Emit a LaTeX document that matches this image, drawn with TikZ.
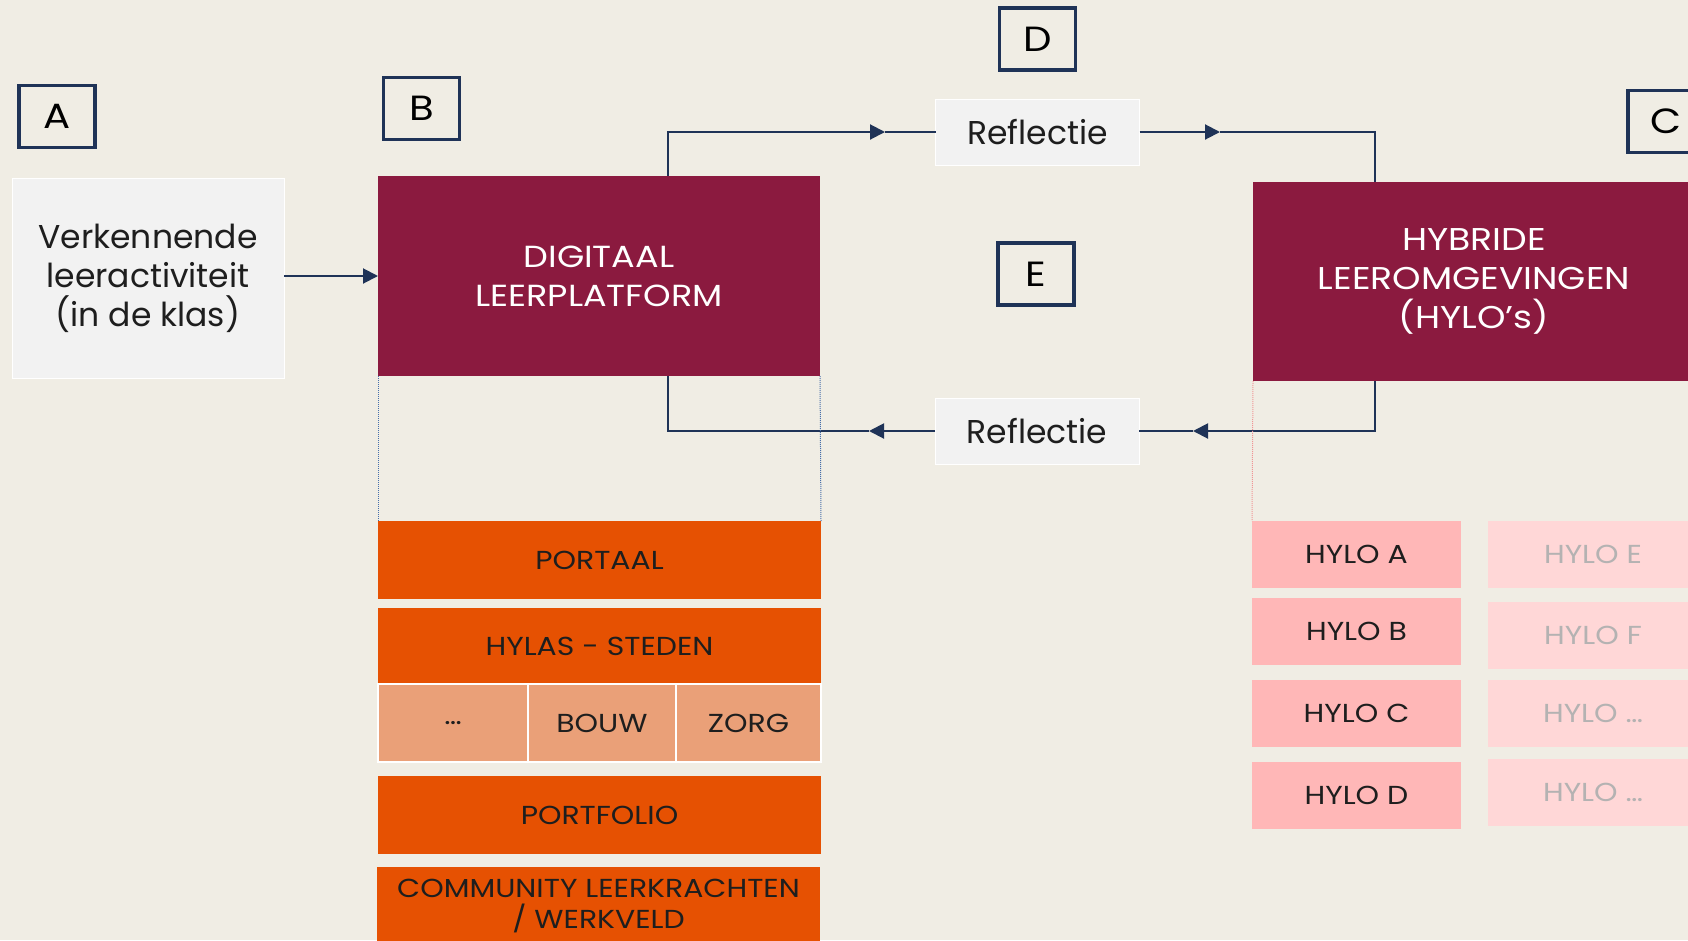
\documentclass[tikz,border=0pt]{standalone}
\usepackage{fontspec}
\setmainfont{Poppins}
\newfontfamily\capsf[FakeStretch=1.15]{Poppins}
\usetikzlibrary{arrows.meta,positioning}

\definecolor{bg}{RGB}{240,237,228}
\definecolor{navy}{RGB}{31,51,87}
\definecolor{maroon}{RGB}{139,26,63}
\definecolor{orng}{RGB}{230,81,2}
\definecolor{lorng}{RGB}{234,160,120}
\definecolor{pnk}{RGB}{255,183,183}
\definecolor{lpnk}{RGB}{255,215,215}
\definecolor{lgr}{RGB}{242,242,242}
\definecolor{txt}{RGB}{30,30,30}
\definecolor{grtxt}{RGB}{180,178,178}
\definecolor{dotb}{RGB}{70,110,170}
\definecolor{dotp}{RGB}{240,150,150}

\begin{document}
\begin{tikzpicture}[x=1pt,y=-1pt,
  ln/.style={draw=navy,line width=2pt},
  tip/.style={-{Triangle[length=15pt,width=15pt]}},
  lt/.style={draw=navy,line width=3.5pt,minimum width=76pt,minimum height=62pt,
    inner sep=0pt,outer sep=0pt,text=black,font=\capsf\fontsize{35}{40}\selectfont},
  gb/.style={fill=lgr,draw=white,line width=1pt,inner sep=0pt,outer sep=0pt,
    align=center,text=txt,font=\fontsize{33}{39}\selectfont},
  mb/.style={fill=maroon,inner sep=0pt,outer sep=0pt,minimum width=442pt,
    minimum height=200pt,align=center,text=white,font=\capsf\fontsize{30.5}{39}\selectfont},
  ob/.style={fill=orng,inner sep=0pt,outer sep=0pt,minimum width=443pt,
    minimum height=78pt,align=center,text=txt,font=\capsf\fontsize{26}{31}\selectfont},
  sb/.style={fill=lorng,draw=white,line width=1.5pt,inner sep=0pt,outer sep=0pt,
    minimum height=78pt,text=txt,font=\capsf\fontsize{26}{31}\selectfont},
  hl/.style={fill=pnk,inner sep=0pt,outer sep=0pt,minimum width=209pt,
    minimum height=67pt,text=txt,font=\capsf\fontsize{26}{30}\selectfont},
  hr/.style={fill=lpnk,inner sep=0pt,outer sep=0pt,minimum width=210pt,
    minimum height=67pt,text=grtxt,font=\capsf\fontsize{26}{30}\selectfont}]
  \fill[bg] (0,0) rectangle (1688,940);
  \useasboundingbox (0,0) rectangle (1688,940);

  \foreach \l/\x/\y in {A/57/116.5,B/421.5/108.5,D/1037.5/39,E/1036/274,C/1666/121.5}
    \node[lt] (l\l) at (\x,\y) {\l};

  \node[gb,minimum width=272pt,minimum height=200pt] (ver) at (148,278)
    {Verkennende\\leeractiviteit\\(in de klas)};
  \node[mb] (dig) at (599,276) {DIGITAAL\\LEERPLATFORM};
  \node[mb,minimum height=199pt,font=\capsf\fontsize{31.5}{39}\selectfont] (hyb) at (1474,281.5)
    {HYBRIDE\\LEEROMGEVINGEN\\(HYLO’s)};
  \node[gb,minimum width=204pt,minimum height=66pt] (r1) at (1037.5,132) {Reflectie};
  \node[gb,minimum width=204pt,minimum height=66pt] (r2) at (1037,431) {Reflectie};

  \node[ob] (por) at (599.5,560) {PORTAAL};
  \node[ob,minimum height=76pt] (hys) at (599.5,646) {HYLAS - STEDEN};
  \node[sb,minimum width=150pt] (s1) at (453,723) {\ldots};
  \node[sb,minimum width=148pt] (s2) at (602,723) {BOUW};
  \node[sb,minimum width=145pt] (s3) at (748.5,723) {ZORG};
  \node[ob] (pf) at (599.5,815) {PORTFOLIO};
  \node[ob] (com) at (598.5,906) {COMMUNITY LEERKRACHTEN\\/ WERKVELD};

  \foreach \n/\y in {A/554.5,B/631.5,C/713.5,D/795.5}
    \node[hl] (h\n) at (1356.5,\y) {HYLO \n};
  \foreach \n/\t/\y in {E/E/554.5,F/F/635.5,G/{\ldots}/713.5,H/{\ldots}/792.5}
    \node[hr] (h\n) at (1593,\y) {HYLO \t};

  \coordinate (k1) at (668,132);
  \coordinate (k2) at (1375,132);
  \coordinate (k3) at (668,431);
  \coordinate (k4) at (1375,431);
  \coordinate (a1) at (885,132);
  \coordinate (a2) at (1220,132);
  \coordinate (a3) at (1193,431);
  \coordinate (a4) at (869,431);

  \draw[ln,tip] (ver.east |- dig) -- (dig);
  \draw[ln,tip] (dig.north -| k1) -- (k1) -- (a1);
  \draw[ln] (a1) -- (r1.west);
  \draw[ln,tip] (r1.east) -- (a2);
  \draw[ln] (a2) -- (k2) -- (hyb.north -| k2);
  \draw[ln,tip] (hyb.south -| k4) -- (k4) -- (a3);
  \draw[ln] (a3) -- (r2.east);
  \draw[ln,tip] (r2.west) -- (a4);
  \draw[ln] (a4) -- (k3) -- (dig.south -| k3);

  \draw[dotb,densely dotted,line width=1pt] (dig.south west) -- (por.north west);
  \draw[dotb,densely dotted,line width=1pt] (dig.south east) -- (por.north east);
  \draw[dotp,densely dotted,line width=1pt] (hyb.south west) -- (hA.north west);
\end{tikzpicture}
\end{document}
